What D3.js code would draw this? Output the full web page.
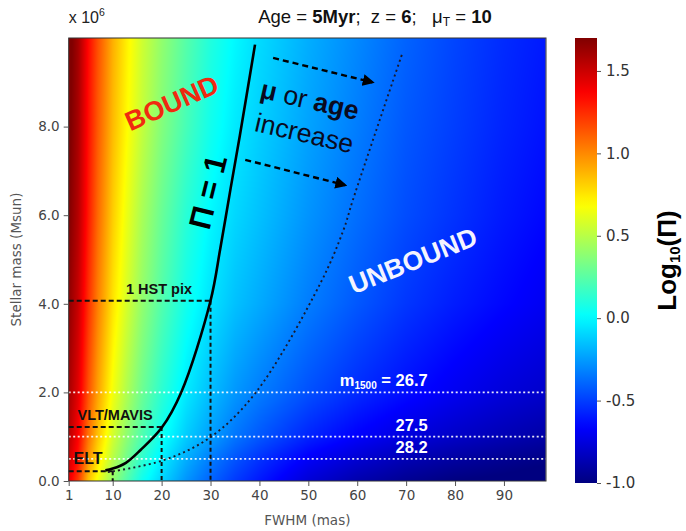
<!DOCTYPE html>
<html><head><meta charset="utf-8">
<script src="https://cdn.jsdelivr.net/npm/d3@7"></script>
<style>body{margin:0;background:#fff} svg{display:block} .pre{white-space:pre}</style>
</head><body>
<svg id="chart" width="686" height="531"></svg>
<script>
// ---------------- data ----------------
const fwhmGrid = [1,3,5,7,10,13,16,20,25,30,35,40,50,60,70,80,90,99];
const massGrid = [0,0.5,1,2,4,6,8,10];          // x 10^6 Msun
const logPiGrid = [
  [1.42,1.2,0.85,0.65,0.4,0.22,0.05,-0.1,-0.27,-0.4,-0.51,-0.6,-0.77,-0.88,-0.95,-1.0,-1.02,-1.05],
  [1.5,1.3,0.98,0.76,0.5,0.31,0.14,-0.03,-0.2,-0.33,-0.44,-0.53,-0.68,-0.78,-0.86,-0.91,-0.95,-0.98],
  [1.55,1.36,1.06,0.84,0.57,0.38,0.22,0.05,-0.12,-0.24,-0.35,-0.43,-0.57,-0.67,-0.75,-0.81,-0.86,-0.9],
  [1.6,1.43,1.15,0.93,0.66,0.47,0.3,0.13,-0.04,-0.16,-0.26,-0.33,-0.45,-0.55,-0.63,-0.7,-0.76,-0.8],
  [1.66,1.5,1.24,1.02,0.76,0.57,0.4,0.23,0.06,-0.06,-0.15,-0.21,-0.33,-0.43,-0.52,-0.59,-0.65,-0.7],
  [1.7,1.55,1.3,1.08,0.82,0.63,0.46,0.29,0.12,0.0,-0.09,-0.15,-0.27,-0.37,-0.46,-0.53,-0.6,-0.65],
  [1.73,1.58,1.33,1.12,0.87,0.69,0.53,0.36,0.2,0.06,-0.04,-0.11,-0.23,-0.33,-0.43,-0.5,-0.57,-0.62],
  [1.75,1.6,1.35,1.15,0.9,0.72,0.56,0.4,0.24,0.1,0.0,-0.08,-0.2,-0.3,-0.4,-0.48,-0.55,-0.6]
];
// Pi = 1 boundary
const piOneFwhm = [8.5,10,12.7,15.7,20,24,30,32,34.1,36.0,39.1];
const piOneMass = [0.24,0.28,0.41,0.70,1.2,2.0,4.07,5.25,6.6,7.8,9.85];
// shifted boundary (higher mu or age)
const shiftFwhm = [9.0,20.4,30.0,39.2,52.5,57.2,59.1,69.3];
const shiftMass = [0.2,0.47,0.99,1.99,4.47,5.67,6.34,9.68];
// instruments resolution
const instNames = ["ELT","VLT/MAVIS","1 HST pix"];
const instFwhm = [10,20,30];
const instMass = [0.22,1.22,4.07];
// magnitude limits
const magNames = ["26.7","27.5","28.2"];
const magMass = [2.0,1.0,0.5];
// ticks
const xTicks = [1,10,20,30,40,50,60,70,80,90];
const yTicks = [0,2,4,6,8];
const cbTicks = [-1.0,-0.5,0.0,0.5,1.0,1.5];

// ---------------- layout ----------------
const svg = d3.select("#chart");
const P = {l:68.7, r:546, t:38, b:481};
const x = d3.scaleLinear().domain([1,98.6]).range([P.l,P.r]);
const y = d3.scaleLinear().domain([0,10]).range([P.b,P.t]);
const cVal = d3.scaleLinear().domain([-1,1.7]).range([0,1]).clamp(true);
const cl = v => Math.max(0,Math.min(1,v));
function jet(t){
  const r = cl(Math.min(4*t-1.5,-4*t+4.5));
  const g = cl(Math.min(4*t-0.5,-4*t+3.5));
  const b = cl(Math.min(4*t+0.5,-4*t+2.5));
  return [Math.round(r*255),Math.round(g*255),Math.round(b*255)];
}
const colorOf = v => jet(cVal(v));

// ---------------- heatmap ----------------
const W = Math.round(P.r-P.l), H = Math.round(P.b-P.t);
const cvs = document.createElement("canvas"); cvs.width=W; cvs.height=H;
const ctx = cvs.getContext("2d"); const img = ctx.createImageData(W,H);
function sample(F,M){
  let i = Math.min(Math.max(d3.bisectRight(fwhmGrid,F)-1,0),fwhmGrid.length-2);
  let j = Math.min(Math.max(d3.bisectRight(massGrid,M)-1,0),massGrid.length-2);
  const tx = cl((F-fwhmGrid[i])/(fwhmGrid[i+1]-fwhmGrid[i]));
  const ty = cl((M-massGrid[j])/(massGrid[j+1]-massGrid[j]));
  const a = logPiGrid[j][i]*(1-tx)+logPiGrid[j][i+1]*tx;
  const b = logPiGrid[j+1][i]*(1-tx)+logPiGrid[j+1][i+1]*tx;
  return a*(1-ty)+b*ty;
}
for(let py=0;py<H;py++){
  const M = y.invert(P.t+py+0.5);
  for(let px=0;px<W;px++){
    const F = x.invert(P.l+px+0.5);
    const c = colorOf(sample(F,M)); const k=(py*W+px)*4;
    img.data[k]=c[0]; img.data[k+1]=c[1]; img.data[k+2]=c[2]; img.data[k+3]=255;
  }
}
ctx.putImageData(img,0,0);
svg.append("image").attr("x",P.l).attr("y",P.t).attr("width",W).attr("height",H)
  .attr("preserveAspectRatio","none").attr("href",cvs.toDataURL());

// ---------------- lines ----------------
const line = d3.line().x(d=>x(d[0])).y(d=>y(d[1])).curve(d3.curveCatmullRom.alpha(0.5));
// white magnitude lines
svg.selectAll(".mag").data(magMass).enter().append("line")
  .attr("x1",P.l).attr("x2",P.r).attr("y1",d=>y(d)).attr("y2",d=>y(d))
  .attr("stroke","#fff").attr("stroke-opacity",0.9).attr("stroke-width",1.8).attr("stroke-dasharray","2,2.5");
// instrument lines
instFwhm.forEach((f,i)=>{
  svg.append("path").attr("d",`M${P.l},${y(instMass[i])}H${x(f)}`)
    .attr("stroke","#111").attr("stroke-width",2).attr("stroke-dasharray","5,3").attr("fill","none");
  svg.append("path").attr("d",`M${x(f)},${y(instMass[i])}V${P.b}`)
    .attr("stroke","#111").attr("stroke-width",2).attr("stroke-dasharray","4,3").attr("fill","none");
});
// shifted curve
svg.append("path").datum(d3.zip(shiftFwhm,shiftMass)).attr("d",line)
  .attr("fill","none").attr("stroke","#1a1a2a").attr("stroke-width",1.9).attr("stroke-dasharray","2,3.2");
// Pi = 1
svg.append("path").datum(d3.zip(piOneFwhm,piOneMass)).attr("d",line)
  .attr("fill","none").attr("stroke","#000").attr("stroke-width",2.6);

// arrows
const defs = svg.append("defs");
defs.append("marker").attr("id","ah").attr("viewBox","0 0 10 10").attr("refX",8).attr("refY",5)
  .attr("markerWidth",5).attr("markerHeight",5).attr("orient","auto")
  .append("path").attr("d","M0,0L10,5L0,10z").attr("fill","#000");
const arrows = [[[42.8,9.55],[63.1,9.0]],[[37.1,7.25],[57.5,6.68]]];
arrows.forEach(a=>{
  svg.append("line").attr("x1",x(a[0][0])).attr("y1",y(a[0][1])).attr("x2",x(a[1][0])).attr("y2",y(a[1][1]))
    .attr("stroke","#000").attr("stroke-width",2.4).attr("stroke-dasharray","6,4").attr("marker-end","url(#ah)");
});

// frame
svg.append("rect").attr("x",P.l).attr("y",P.t).attr("width",P.r-P.l).attr("height",P.b-P.t)
  .attr("fill","none").attr("stroke","#333").attr("stroke-width",1);

// ---------------- texts in plot ----------------
const F0 = "'Liberation Sans', Arial, sans-serif";
function rt(F,M,ang){ return `translate(${x(F)},${y(M)}) rotate(${ang})`; }
svg.append("text").attr("transform",rt(22.1,8.53,-24)).attr("text-anchor","middle").attr("dominant-baseline","central")
  .attr("font-family",F0).attr("font-weight","bold").attr("font-size",27).attr("fill","#f02a10").text("BOUND");
svg.append("text").attr("transform",rt(29.5,6.52,-76)).attr("text-anchor","middle").attr("dominant-baseline","central")
  .attr("font-family",F0).attr("font-weight","bold").attr("font-size",31).attr("fill","#000").text("Π = 1");
const t1 = svg.append("text").attr("transform",rt(50.3,8.6,13)).attr("text-anchor","middle").attr("dominant-baseline","central")
  .attr("font-family",F0).attr("font-size",26.5).attr("fill","#0a0a1e");
t1.append("tspan").attr("font-weight","bold").text("μ");
t1.append("tspan").text(" or ");
t1.append("tspan").attr("font-weight","bold").text("age");
svg.append("text").attr("transform",rt(49.2,7.85,13)).attr("text-anchor","middle").attr("dominant-baseline","central")
  .attr("font-family",F0).attr("font-size",26.5).attr("fill","#0a0a1e").text("increase");
svg.append("text").attr("transform",rt(71.4,4.97,-22)).attr("text-anchor","middle").attr("dominant-baseline","central")
  .attr("font-family",F0).attr("font-weight","bold").attr("font-size",26.5).attr("fill","#f4f4ff").text("UNBOUND");

// instrument labels
const instLabelF = [2.0,2.8,12.7], instLabelSize=[16,14.5,14.5];
instNames.forEach((n,i)=>{
  svg.append("text").attr("x",x(instLabelF[i])).attr("y",y(instMass[i])-7)
    .attr("font-family",F0).attr("font-weight","bold").attr("font-size",instLabelSize[i]).attr("fill","#111").text(n);
});
// magnitude labels
magNames.forEach((n,i)=>{
  const t = svg.append("text").attr("x",x(74.4)).attr("y",y(magMass[i])-6).attr("text-anchor","end")
    .attr("font-family",F0).attr("font-weight","bold").attr("font-size",16.5).attr("fill","#fff");
  if(i===0){
    t.append("tspan").text("m");
    t.append("tspan").attr("font-size",10).attr("dy",3).text("1500");
    t.append("tspan").attr("dy",-3).text(" = " + n);
  } else t.text(n);
});

// ---------------- axes ----------------
const FA = "'DejaVu Sans', sans-serif";
const xa = svg.append("g").attr("transform",`translate(0,${P.b})`)
  .call(d3.axisBottom(x).tickValues(xTicks).tickSize(5).tickPadding(4).tickFormat(d=>String(d)));
const ya = svg.append("g").attr("transform",`translate(${P.l},0)`)
  .call(d3.axisLeft(y).tickValues(yTicks).tickSize(5).tickPadding(4).tickFormat(d=>d.toFixed(1)));
[xa,ya].forEach(g=>{
  g.select(".domain").remove();
  g.selectAll("line").attr("stroke","#555");
  g.selectAll("text").attr("font-family",FA).attr("font-size",13.5).attr("fill","#444");
});
svg.append("text").attr("x",(P.l+P.r)/2).attr("y",525).attr("text-anchor","middle")
  .attr("font-family",FA).attr("font-size",13.5).attr("fill","#555").text("FWHM (mas)");
svg.append("text").attr("transform",`translate(21,${(P.t+P.b)/2}) rotate(-90)`).attr("text-anchor","middle")
  .attr("font-family",FA).attr("font-size",13.5).attr("fill","#555").text("Stellar mass (Msun)");
const xe = svg.append("text").attr("x",P.l).attr("y",23).attr("font-family",F0).attr("font-size",16).attr("fill","#222");
xe.append("tspan").text("x 10");
xe.append("tspan").attr("font-size",10.5).attr("dy",-7).text("6");

// title
const tt = svg.append("text").attr("class","pre").attr("x",375).attr("y",23).attr("text-anchor","middle")
  .attr("font-family",F0).attr("font-size",18.5).attr("fill","#111");
tt.append("tspan").text("Age = ");
tt.append("tspan").attr("font-weight","bold").text("5Myr");
tt.append("tspan").text(";  z = ");
tt.append("tspan").attr("font-weight","bold").text("6");
tt.append("tspan").text(";   μ");
tt.append("tspan").attr("font-size",12).attr("dy",3).text("T");
tt.append("tspan").attr("dy",-3).text(" = ");
tt.append("tspan").attr("font-weight","bold").text("10");

// ---------------- colorbar ----------------
const CB = {x:575, w:22, t:38, b:483};
const cy = d3.scaleLinear().domain([-1,1.7]).range([CB.b,CB.t]);
const grad = defs.append("linearGradient").attr("id","cbg").attr("x1",0).attr("x2",0).attr("y1",1).attr("y2",0);
d3.range(0,1.0001,0.02).forEach(t=>{
  const c = jet(t);
  grad.append("stop").attr("offset",t).attr("stop-color",`rgb(${c[0]},${c[1]},${c[2]})`);
});
svg.append("rect").attr("x",CB.x).attr("y",CB.t).attr("width",CB.w).attr("height",CB.b-CB.t).attr("fill","url(#cbg)");
const ca = svg.append("g").attr("transform",`translate(${CB.x+CB.w},0)`)
  .call(d3.axisRight(cy).tickValues(cbTicks).tickSize(4).tickPadding(5).tickFormat(d=>d.toFixed(1)));
ca.select(".domain").remove();
ca.selectAll("line").attr("stroke","#555");
ca.selectAll("text").attr("font-family",FA).attr("font-size",15).attr("fill","#333");
const cbl = svg.append("text").attr("transform",`translate(676,${(CB.t+CB.b)/2}) rotate(-90)`).attr("text-anchor","middle")
  .attr("font-family",F0).attr("font-weight","bold").attr("font-size",26).attr("fill","#000");
cbl.append("tspan").text("Log");
cbl.append("tspan").attr("font-size",15).attr("dy",4).text("10");
cbl.append("tspan").attr("dy",-4).text("(Π)");
</script>
</body></html>
